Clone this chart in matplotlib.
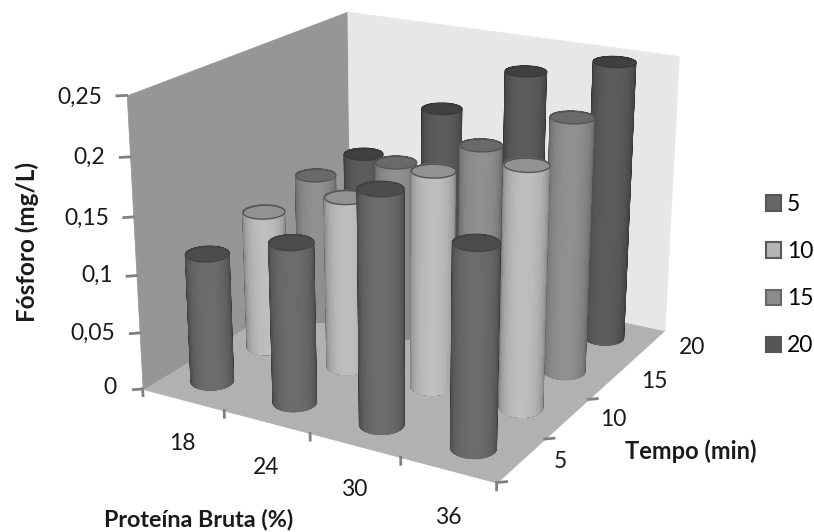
import numpy as np
import matplotlib
matplotlib.use("Agg")
import matplotlib.pyplot as plt
from matplotlib.patches import Patch
from mpl_toolkits.mplot3d.art3d import Poly3DCollection

# ---------- data ----------
proteina = ["18", "24", "30", "36"]
tempo = ["5", "10", "15", "20"]
z_ticks = [0, 0.05, 0.10, 0.15, 0.20, 0.25]
z_labels = ["0", "0,05", "0,1", "0,15", "0,2", "0,25"]
serie_5 = [0.113, 0.138, 0.196, 0.168]
serie_10 = [0.124, 0.151, 0.187, 0.205]
serie_15 = [0.133, 0.158, 0.186, 0.222]
serie_20 = [0.130, 0.185, 0.230, 0.249]
series = [serie_5, serie_10, serie_15, serie_20]

# ---------- style ----------
W, H = 814, 532
FONT = "Lato"
side_center = ["#6c6c6c", "#bebebe", "#909090", "#5c5c5c"]
side_edge = ["#3a3a3a", "#6a6a6a", "#545454", "#323232"]
cap_face = ["#4c4c4c", "#929292", "#6a6a6a", "#404040"]
cap_edge = ["#444444", "#555555", "#555555", "#3a3a3a"]
leg_face = ["#666666", "#b5b5b5", "#8c8c8c", "#555555"]
leg_edge = ["#555555", "#5a5a5a", "#666666", "#555555"]
RADIUS = 0.215

# camera calibration: box corners (x, y, z) seen at pixel (px, py)
corners = [
    ((0, 0, 0), (143, 388)), ((4, 0, 0), (496, 484)),
    ((4, 4, 0), (665, 328)), ((0, 4, 0), (350, 266)),
    ((0, 0, .25), (127, 95)), ((4, 4, .25), (679, 57)),
    ((0, 4, .25), (347, 11)),
]


def calibrate():
    rows = []
    S = np.diag([1 / 4, 1 / 4, 4, 1.0])
    for (x, y, z), (px, py) in corners:
        X = S @ np.array([x, y, z, 1.0])
        u, v = px / 500, (H - py) / 500
        rows.append(np.r_[X, 0, 0, 0, 0, -u * X])
        rows.append(np.r_[0, 0, 0, 0, X, -v * X])
    P = np.linalg.svd(np.array(rows))[2][-1].reshape(3, 4)
    P = np.diag([500, 500, 1.0]) @ P @ S
    if P[2] @ np.array([2, 2, .1, 1]) < 0:
        P = -P
    return P / (P[2] @ np.array([2, 2, .1, 1]))


P = calibrate()
nv = np.linalg.svd(P)[2][-1]
cam = nv[:3] / nv[3]
fwd = np.array([2, 2]) - cam[:2]
fwd = fwd / np.linalg.norm(fwd)

fig = plt.figure(figsize=(W / 100, H / 100), dpi=100, facecolor="white")
ax = fig.add_axes([0, 0, 1, 1], projection="3d", computed_zorder=False)
ax.apply_aspect = lambda position=None: None
ax.set_axis_off()
ax.patch.set_visible(False)


def get_proj():
    Tinv = np.linalg.inv(ax.transData.get_affine().get_matrix())
    Q = Tinv @ P
    depth = np.r_[fwd * 0.1, 0, 0]
    return np.vstack([Q[0], Q[1], depth, Q[2]])


ax.get_proj = get_proj

# ---------- box ----------
def face(pts, color, z):
    ax.add_collection3d(Poly3DCollection([pts], facecolors=color, edgecolors=color,
                                         linewidths=0.5, zorder=z))


zmax = z_ticks[-1]
face([(0, 0, 0), (4, 0, 0), (4, 4, 0), (0, 4, 0)], "#b1b1b1", 1)
face([(0, 0, 0), (0, 4, 0), (0, 4, zmax), (0, 0, zmax)], "#969696", 1)
face([(0, 4, 0), (4, 4, 0), (4, 4, zmax), (0, 4, zmax)], "#e7e7e7", 1)

for zt in z_ticks[1:]:
    ax.plot([0, 0], [0, 4], [zt, zt], color="#8a8a8a", lw=0.8, zorder=2)
    ax.plot([0, 4], [4, 4], [zt, zt], color="#808080", lw=1.2, zorder=2)
for zt in z_ticks:
    ax.plot([0, -0.07], [0, -0.06], [zt, zt], color="#808080", lw=2, zorder=3)
for xt in range(5):
    ax.plot([xt, xt], [0, 0], [0, -0.006], color="#808080", lw=2, zorder=3)
for yt in range(5):
    ax.plot([4, 4.07], [yt, yt + 0.06], [0, 0], color="#808080", lw=2, zorder=3)

# ---------- cylinders ----------
theta = np.linspace(0, 2 * np.pi, 61)
order = []
for j in range(4):
    for i in range(4):
        order.append((np.dot(fwd, [i + .5, j + .5]), i, j))
order.sort(reverse=True)

for rank, (_, i, j) in enumerate(order):
    cx, cy, top = i + .5, j + .5, series[j][i]
    X = cx + RADIUS * np.cos(theta)
    Y = cy + RADIUS * np.sin(theta)
    XX, YY = np.vstack([X, X]), np.vstack([Y, Y])
    ZZ = np.vstack([np.zeros_like(X), np.full_like(X, top)])
    view = cam[:2] - np.array([cx, cy])
    view = view / np.linalg.norm(view)
    mid = .5 * (theta[:-1] + theta[1:])
    c = np.clip(np.cos(mid) * view[0] + np.sin(mid) * view[1], 0, 1) ** 0.7
    c0 = np.array(matplotlib.colors.to_rgb(side_edge[j]))
    c1 = np.array(matplotlib.colors.to_rgb(side_center[j]))
    rgb = c0[None] + (c1 - c0)[None] * c[:, None]
    cols = np.c_[rgb, np.ones(len(rgb))]
    # smooth outer outline underneath, clean aliased gradient on top
    base = ax.plot_surface(XX, YY, ZZ, color=side_edge[j], shade=False, rstride=1,
                           cstride=1, linewidth=0.8, zorder=10 + 3 * rank)
    base.set_edgecolor(side_edge[j])
    ax.plot_surface(XX, YY, ZZ, facecolors=cols[None], shade=False, rstride=1, cstride=1,
                    linewidth=0, antialiased=False, zorder=11 + 3 * rank)
    ax.add_collection3d(Poly3DCollection(
        [list(zip(X, Y, np.full_like(X, top)))], facecolors=cap_face[j],
        edgecolors=cap_edge[j], linewidths=1.0, zorder=12 + 3 * rank))


# ---------- texts ----------
def label(px, py, s, **kw):
    kw.setdefault("ha", "center")
    kw.setdefault("va", "center")
    kw.setdefault("fontsize", 16.5)
    kw.setdefault("color", "#1a1a1a")
    fig.text(px / W, 1 - py / H, s, family=FONT, **kw)


z_pos = [(117, 387), (115, 333), (113, 275), (109, 218), (105, 157), (102, 97)]
for (px, py), s in zip(z_pos, z_labels):
    label(px, py, s, ha="right")
for (px, py), s in zip([(182, 444), (266, 467), (354, 490), (448, 517)], proteina):
    label(px, py, s)
for (px, py), s in zip([(560, 462), (613, 420), (654, 382), (692, 347)], tempo):
    label(px, py, s)

label(27, 242, "Fósforo (mg/L)", rotation=90, fontweight="bold", fontsize=17.5)
label(199, 520, "Proteína Bruta (%)", fontweight="bold", fontsize=16.8)
label(691, 451, "Tempo (min)", fontweight="bold", fontsize=17)

handles = [Patch(facecolor=f, edgecolor=e, linewidth=1.5) for f, e in zip(leg_face, leg_edge)]
fig.legend(handles, tempo, loc="upper left", bbox_to_anchor=(766 / W, 1 - 194 / H),
           frameon=False, labelspacing=1.14, handlelength=0.655,
           handleheight=0.655, handletextpad=0.26, borderpad=0, borderaxespad=0,
           prop={"family": FONT, "size": 16.5})

fig.savefig("out.png", dpi=100, facecolor="white")
